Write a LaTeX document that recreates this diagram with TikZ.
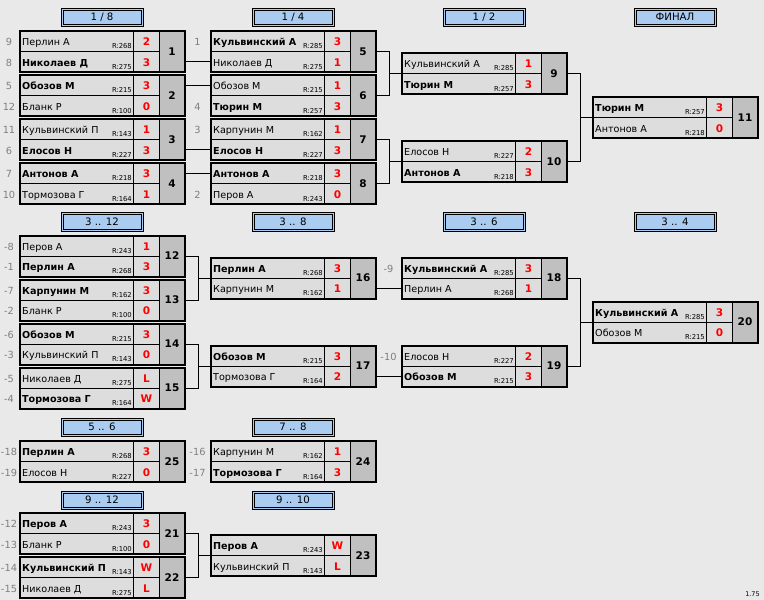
\documentclass[tikz,border=0pt]{standalone}
\usepackage{fontspec}
\setmainfont{DejaVu Sans}
\definecolor{bg}{RGB}{233,233,233}
\definecolor{cell}{RGB}{221,221,221}
\definecolor{numc}{RGB}{192,192,192}
\definecolor{hdrc}{RGB}{170,204,240}
\definecolor{seedc}{RGB}{128,128,128}
\definecolor{scc}{RGB}{255,0,0}
\tikzset{
  namef/.style={font=\fontsize{9.6}{10}\selectfont, anchor=base west, inner sep=0},
  ratef/.style={font=\fontsize{6.8}{7}\selectfont, anchor=base east, inner sep=0},
  scoref/.style={font=\fontsize{10.5}{11}\selectfont\bfseries, text=scc, anchor=base, inner sep=0},
  numf/.style={font=\fontsize{10.5}{12}\selectfont\bfseries, inner sep=0},
  seedf/.style={font=\fontsize{9.8}{10}\selectfont, text=seedc, anchor=base, inner sep=0},
  hdrf/.style={font=\fontsize{10.2}{11}\selectfont, inner sep=0},
  conn/.style={line width=1pt},
  thinln/.style={line width=0.8pt},
  thickln/.style={line width=2pt}
}
% #1 match number, #2 top-left, #3 name1, #4 rating1, #5 score1, #6 name2, #7 rating2, #8 score2
\newcommand\mmatch[8]{%
  \begin{scope}[shift={(#2)}]
    \fill[cell] (0,0) rectangle (140,41);
    \fill[numc] (140,0) rectangle (165,41);
    \draw[thinln] (0,20.5) -- (140,20.5) (114,0) -- (114,41) (140,0) -- (140,41);
    \draw[thickln] (0,0) rectangle (165,41);
    \node[inner sep=0, minimum width=165pt, minimum height=41pt] (m#1) at (82.5,20.5) {};
    \coordinate (m#1-e1) at (165,10.25); \coordinate (m#1-e2) at (165,30.75);
    \coordinate (m#1-w1) at (0,10.25);   \coordinate (m#1-w2) at (0,30.75);
    \coordinate (m#1-b1) at (0,14.5);    \coordinate (m#1-b2) at (0,35);
    \node[namef] (m#1-p1) at (2.5,14.5) {#3};
    \node[ratef] (m#1-r1) at (112.5,17.8) {R:#4};
    \node[scoref] (m#1-s1) at (127,14.8) {#5};
    \node[namef] (m#1-p2) at (2.5,35) {#6};
    \node[ratef] (m#1-r2) at (112.5,38.3) {R:#7};
    \node[scoref] (m#1-s2) at (127,35.3) {#8};
    \node[numf] (m#1-n) at (152.5,20.5) {#1};
  \end{scope}}
% #1 id, #2 centre-top, #3 text
\newcommand\hhead[3]{%
  \begin{scope}[shift={(#2)}]
    \fill[hdrc] (-41,0) rectangle (41,18.5);
    \draw[line width=0.8pt] (-41,0) rectangle (41,18.5);
    \draw[line width=0.8pt] (-39,2) rectangle (39,16.5);
    \node[hdrf] (#1) at (0,9.25) {#3};
  \end{scope}}
\begin{document}
\begin{tikzpicture}[x=1pt,y=-1pt]
\fill[bg] (0,0) rectangle (764,600);
\useasboundingbox (0,0) rectangle (764,600);

% headers
\hhead{h1}{102,8}{1 / 8}
\hhead{h2}{293,8}{1 / 4}
\hhead{h3}{484,8}{1 / 2}
\hhead{h4}{675,8}{ФИНАЛ}
\hhead{h5}{102,212.5}{3 .. 12}
\hhead{h6}{293,212.5}{3 .. 8}
\hhead{h7}{484,212.5}{3 .. 6}
\hhead{h8}{675,212.5}{3 .. 4}
\hhead{h9}{102,418}{5 .. 6}
\hhead{h10}{293,418}{7 .. 8}
\hhead{h11}{102,491}{9 .. 12}
\hhead{h12}{293,491}{9 .. 10}

% matches
\mmatch{1}{19.5,31}{Перлин А}{268}{2}{\textbf{Николаев Д}}{275}{3}
\mmatch{2}{19.5,75}{\textbf{Обозов М}}{215}{3}{Бланк Р}{100}{0}
\mmatch{3}{19.5,119}{Кульвинский П}{143}{1}{\textbf{Елосов Н}}{227}{3}
\mmatch{4}{19.5,163}{\textbf{Антонов А}}{218}{3}{Тормозова Г}{164}{1}
\mmatch{5}{210.5,31}{\textbf{Кульвинский А}}{285}{3}{Николаев Д}{275}{1}
\mmatch{6}{210.5,75}{Обозов М}{215}{1}{\textbf{Тюрин М}}{257}{3}
\mmatch{7}{210.5,119}{Карпунин М}{162}{1}{\textbf{Елосов Н}}{227}{3}
\mmatch{8}{210.5,163}{\textbf{Антонов А}}{218}{3}{Перов А}{243}{0}
\mmatch{9}{401.5,53}{Кульвинский А}{285}{1}{\textbf{Тюрин М}}{257}{3}
\mmatch{10}{401.5,141}{Елосов Н}{227}{2}{\textbf{Антонов А}}{218}{3}
\mmatch{11}{592.5,97}{\textbf{Тюрин М}}{257}{3}{Антонов А}{218}{0}
\mmatch{12}{19.5,235.5}{Перов А}{243}{1}{\textbf{Перлин А}}{268}{3}
\mmatch{13}{19.5,279.5}{\textbf{Карпунин М}}{162}{3}{Бланк Р}{100}{0}
\mmatch{14}{19.5,323.5}{\textbf{Обозов М}}{215}{3}{Кульвинский П}{143}{0}
\mmatch{15}{19.5,367.5}{Николаев Д}{275}{L}{\textbf{Тормозова Г}}{164}{W}
\mmatch{16}{210.5,257.5}{\textbf{Перлин А}}{268}{3}{Карпунин М}{162}{1}
\mmatch{17}{210.5,345.5}{\textbf{Обозов М}}{215}{3}{Тормозова Г}{164}{2}
\mmatch{18}{401.5,257.5}{\textbf{Кульвинский А}}{285}{3}{Перлин А}{268}{1}
\mmatch{19}{401.5,345.5}{Елосов Н}{227}{2}{\textbf{Обозов М}}{215}{3}
\mmatch{20}{592.5,301.5}{\textbf{Кульвинский А}}{285}{3}{Обозов М}{215}{0}
\mmatch{25}{19.5,441}{\textbf{Перлин А}}{268}{3}{Елосов Н}{227}{0}
\mmatch{24}{210.5,441}{Карпунин М}{162}{1}{\textbf{Тормозова Г}}{164}{3}
\mmatch{21}{19.5,513}{\textbf{Перов А}}{243}{3}{Бланк Р}{100}{0}
\mmatch{22}{19.5,557}{\textbf{Кульвинский П}}{143}{W}{Николаев Д}{275}{L}
\mmatch{23}{210.5,535}{\textbf{Перов А}}{243}{W}{Кульвинский П}{143}{L}

% seeds
\node[seedf] (sa1) at ([xshift=-10.5pt]m1-b1) {9};
\node[seedf] (sa2) at ([xshift=-10.5pt]m1-b2) {8};
\node[seedf] (sa3) at ([xshift=-10.5pt]m2-b1) {5};
\node[seedf] (sa4) at ([xshift=-10.5pt]m2-b2) {12};
\node[seedf] (sa5) at ([xshift=-10.5pt]m3-b1) {11};
\node[seedf] (sa6) at ([xshift=-10.5pt]m3-b2) {6};
\node[seedf] (sa7) at ([xshift=-10.5pt]m4-b1) {7};
\node[seedf] (sa8) at ([xshift=-10.5pt]m4-b2) {10};
\node[seedf] (sb1) at ([xshift=-13pt]m5-b1) {1};
\node[seedf] (sb2) at ([xshift=-13pt]m6-b2) {4};
\node[seedf] (sb3) at ([xshift=-13pt]m7-b1) {3};
\node[seedf] (sb4) at ([xshift=-13pt]m8-b2) {2};
\node[seedf] (sc1) at ([xshift=-10.5pt]m12-b1) {-8};
\node[seedf] (sc2) at ([xshift=-10.5pt]m12-b2) {-1};
\node[seedf] (sc3) at ([xshift=-10.5pt]m13-b1) {-7};
\node[seedf] (sc4) at ([xshift=-10.5pt]m13-b2) {-2};
\node[seedf] (sc5) at ([xshift=-10.5pt]m14-b1) {-6};
\node[seedf] (sc6) at ([xshift=-10.5pt]m14-b2) {-3};
\node[seedf] (sc7) at ([xshift=-10.5pt]m15-b1) {-5};
\node[seedf] (sc8) at ([xshift=-10.5pt]m15-b2) {-4};
\node[seedf] (sd1) at ([xshift=-13pt]m18-b1) {-9};
\node[seedf] (sd2) at ([xshift=-13pt]m19-b1) {-10};
\node[seedf] (se1) at ([xshift=-10.5pt]m25-b1) {-18};
\node[seedf] (se2) at ([xshift=-10.5pt]m25-b2) {-19};
\node[seedf] (se3) at ([xshift=-13pt]m24-b1) {-16};
\node[seedf] (se4) at ([xshift=-13pt]m24-b2) {-17};
\node[seedf] (se5) at ([xshift=-10.5pt]m21-b1) {-12};
\node[seedf] (se6) at ([xshift=-10.5pt]m21-b2) {-13};
\node[seedf] (se7) at ([xshift=-10.5pt]m22-b1) {-14};
\node[seedf] (se8) at ([xshift=-10.5pt]m22-b2) {-15};

% connectors
\draw[conn] (m1-e2) -- (m5-w2);
\draw[conn] (m2-e1) -- (m6-w1);
\draw[conn] (m3-e2) -- (m7-w2);
\draw[conn] (m4-e1) -- (m8-w1);
\draw[conn] (m5.east) -- ++(13.5,0) |- (m9.west);
\draw[conn] (m6.east) -- ++(13.5,0) |- (m9.west);
\draw[conn] (m7.east) -- ++(13.5,0) |- (m10.west);
\draw[conn] (m8.east) -- ++(13.5,0) |- (m10.west);
\draw[conn] (m9.east) -- ++(14,0) |- (m11.west);
\draw[conn] (m10.east) -- ++(14,0) |- (m11.west);
\draw[conn] (m12.east) -- ++(13.5,0) |- (m16.west);
\draw[conn] (m13.east) -- ++(13.5,0) |- (m16.west);
\draw[conn] (m14.east) -- ++(13.5,0) |- (m17.west);
\draw[conn] (m15.east) -- ++(13.5,0) |- (m17.west);
\draw[conn] (m16-e2) -- (m18-w2);
\draw[conn] (m17-e2) -- (m19-w2);
\draw[conn] (m18.east) -- ++(14,0) |- (m20.west);
\draw[conn] (m19.east) -- ++(14,0) |- (m20.west);
\draw[conn] (m21.east) -- ++(13.5,0) |- (m23.west);
\draw[conn] (m22.east) -- ++(13.5,0) |- (m23.west);

\node[font=\fontsize{6.5}{7}\selectfont, inner sep=0] (ver) at (752.5,594.5) {1.75};
\end{tikzpicture}
\end{document}
